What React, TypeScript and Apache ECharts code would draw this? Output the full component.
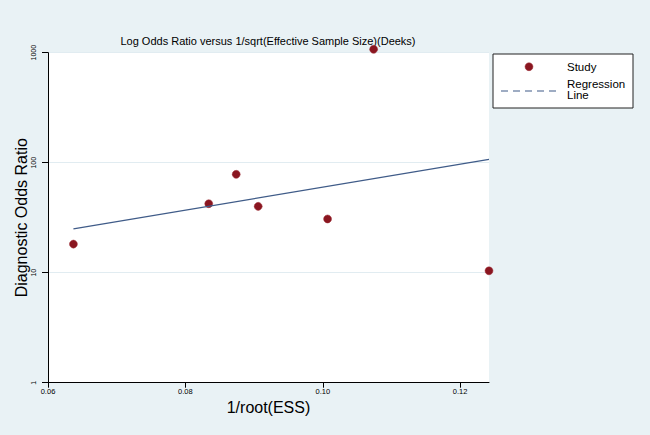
import React, { useEffect, useRef } from "react";
import * as echarts from "echarts";

const titleText = "Log Odds Ratio versus 1/sqrt(Effective Sample Size)(Deeks)";
const xName = "1/root(ESS)";
const yName = "Diagnostic Odds Ratio";
const xTicks = [0.06, 0.08, 0.1, 0.12];
const studyX = [0.0637, 0.0834, 0.0874, 0.0906, 0.1007, 0.1074, 0.1242];
const studyY = [18.2, 42.4, 78.4, 40.1, 30.8, 1074, 10.4];
const regX = [0.0637, 0.1242];
const regY = [25.0, 107.4];
const legendLabels = ["Study", "Regression", "Line"];

export default function App() {
  const ref = useRef<HTMLDivElement>(null);
  useEffect(() => {
    document.body.style.margin = "0";
    const chart = echarts.init(ref.current!, null, { renderer: "svg" });
    const font = "Liberation Sans, Arial, sans-serif";
    chart.setOption({
      animation: false,
      backgroundColor: "#e9f2f5",
      textStyle: { fontFamily: font },
      grid: {
        left: 48,
        right: 161,
        top: 52.7,
        bottom: 52.3,
        show: true,
        backgroundColor: "#ffffff",
        borderWidth: 0,
      },
      xAxis: {
        type: "value",
        min: 0.06,
        max: 0.1242,
        interval: 0.02,
        name: xName,
        nameLocation: "middle",
        nameGap: 17,
        nameMoveOverlap: false,
        nameTextStyle: { fontSize: 16, color: "#000", fontFamily: font },
        axisLine: { show: true, lineStyle: { color: "#000", width: 1 } },
        axisTick: { show: true, length: 5, lineStyle: { color: "#000" }, customValues: xTicks },
        axisLabel: {
          fontSize: 7.5,
          color: "#000",
          margin: 5,
          customValues: xTicks,
          formatter: (v: number) => v.toFixed(2),
        },
        splitLine: { show: false },
      },
      yAxis: {
        type: "log",
        logBase: 10,
        min: 1,
        max: 1000,
        name: yName,
        nameLocation: "middle",
        nameGap: 19,
        nameMoveOverlap: false,
        nameTextStyle: { fontSize: 16, color: "#000", fontFamily: font },
        axisLine: { show: true, lineStyle: { color: "#000", width: 1 } },
        axisTick: { show: true, length: 6, lineStyle: { color: "#000" } },
        axisLabel: {
          fontSize: 7,
          color: "#000",
          rotate: 90,
          margin: 11,
          formatter: (v: number) => String(Math.round(v)),
        },
        splitLine: { show: true, lineStyle: { color: "#e1ecf1", width: 1 } },
      },
      series: [
        {
          type: "line",
          data: regX.map((x, i) => [x, regY[i]]),
          symbol: "none",
          lineStyle: { color: "#3f5b88", width: 1.2 },
          silent: true,
        },
        {
          type: "scatter",
          data: studyX.map((x, i) => [x, studyY[i]]),
          symbolSize: 8,
          clip: false,
          itemStyle: { color: "#8a1620", borderColor: "#a0323a", borderWidth: 0.5, opacity: 1 },
        },
      ],
      graphic: [
        {
          type: "text",
          x: 268,
          y: 41,
          style: {
            text: titleText,
            fontSize: 11,
            fontFamily: font,
            fill: "#000",
            align: "center",
            verticalAlign: "middle",
          },
        },
        {
          type: "rect",
          shape: { x: 493, y: 54, width: 140, height: 54 },
          style: { fill: "#ffffff", stroke: "#222", lineWidth: 1 },
        },
        {
          type: "circle",
          shape: { cx: 529, cy: 66.7, r: 4 },
          style: { fill: "#8a1620", stroke: "#a0323a", lineWidth: 0.5 },
        },
        {
          type: "line",
          shape: { x1: 501, y1: 91, x2: 558, y2: 91 },
          style: { stroke: "#3f5b88", lineWidth: 1.2, lineDash: [7, 5] },
        },
        {
          type: "text",
          x: 567,
          y: 67.3,
          style: { text: legendLabels[0], fontSize: 11.5, lineHeight: 10.5, fontFamily: font, fill: "#000", verticalAlign: "middle" },
        },
        {
          type: "text",
          x: 567,
          y: 84.3,
          style: { text: legendLabels[1], fontSize: 11.5, lineHeight: 10.5, fontFamily: font, fill: "#000", verticalAlign: "middle" },
        },
        {
          type: "text",
          x: 567,
          y: 95.2,
          style: { text: legendLabels[2], fontSize: 11.5, lineHeight: 10.5, fontFamily: font, fill: "#000", verticalAlign: "middle" },
        },
      ],
    });
    return () => chart.dispose();
  }, []);
  return (
    <div
      ref={ref}
      style={{ position: "fixed", left: 0, top: 0, width: 650, height: 435 }}
    />
  );
}
